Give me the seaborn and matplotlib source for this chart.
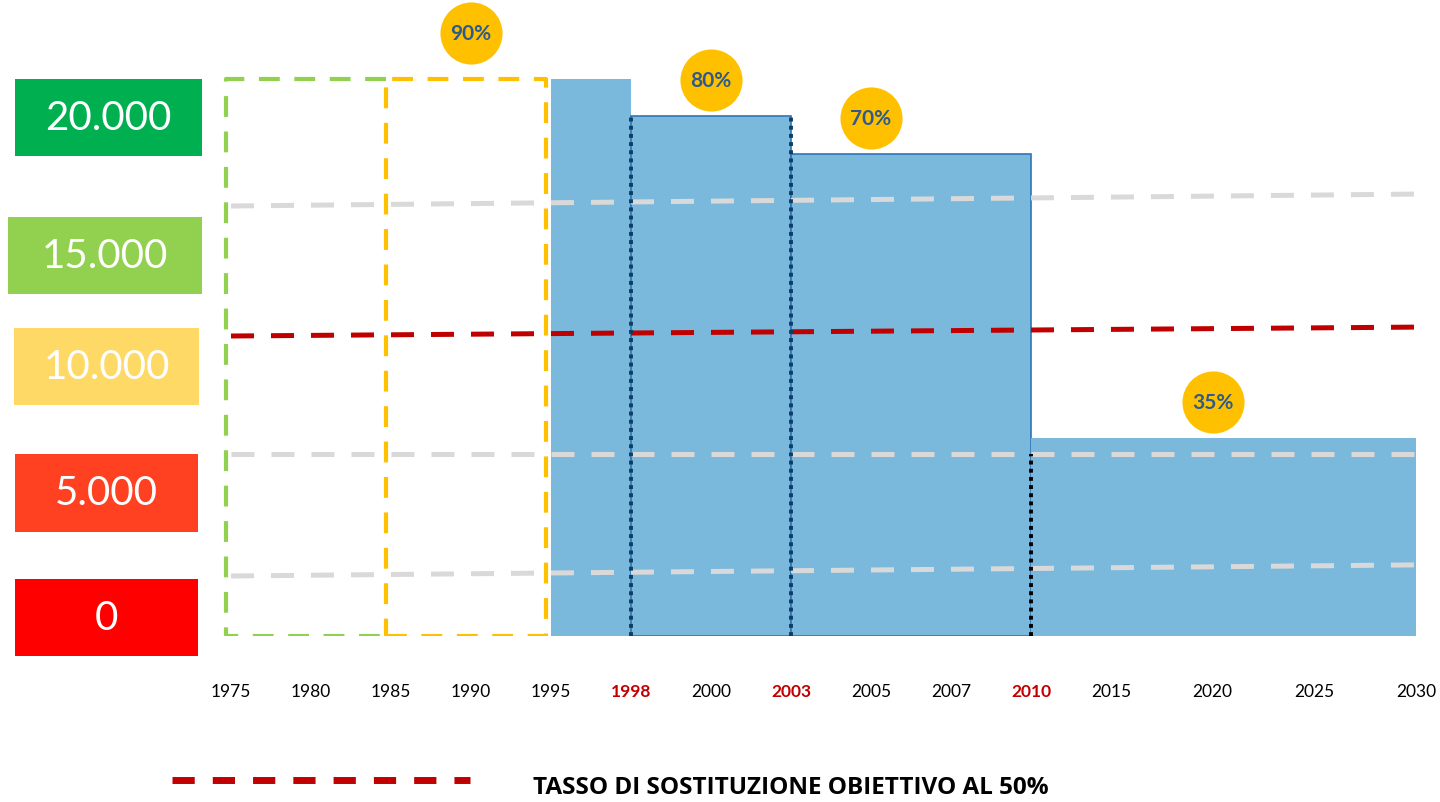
import numpy as np
import seaborn as sns
import matplotlib.pyplot as plt
from matplotlib.patches import Rectangle

# --- data ---
years = ['1975', '1980', '1985', '1990', '1995', '1998', '2000', '2003',
         '2005', '2007', '2010', '2015', '2020', '2025', '2030']
red_years = ['1998', '2003', '2010']

bar_from = ['1995', '1998', '2003', '2010']
bar_to = ['1998', '2003', '2010', '2030']
bar_values = [20050, 18720, 17350, 7130]

box_from = ['1975', '1985']
box_to = ['1985', '1995']
box_value = 20050

rates = ['90%', '80%', '70%', '35%']
rate_years = ['1990', '2000', '2005', '2020']
rate_heights = [21700, 20020, 18650, 8430]

ref_start = [2160, 6550, 10800, 15480]
ref_end = [2560, 6550, 11120, 15910]
target_line = 2

scale_labels = ['20.000', '15.000', '10.000', '5.000', '0']
scale_colors = ['#00b050', '#92d050', '#ffd966', '#ff4122', '#ff0000']

legend_text = 'TASSO DI SOSTITUZIONE OBIETTIVO AL 50%'

# --- layout ---
sns.set_style('white')
plt.rcParams['font.family'] = ['Lato', 'DejaVu Sans']

W, H = 1440, 803
UNIT = 80.0
fig = plt.figure(figsize=(W / 100, H / 100), dpi=100)
ax = fig.add_axes([0, 1 - 637 / H, 1, 637 / H])

# x slots: even up to 2015, wider afterwards
step = [1.0 if y <= '2015' else 1.27 for y in years[1:]]
pos = np.concatenate([[0], np.cumsum(step)])
xpos = dict(zip(years, pos))

ax.set_xlim(-231 / UNIT, (W - 231) / UNIT)
ax.set_ylim(0, 637 * 36)

bar_blue = '#7ab9dc'
bar_edges = ['none', '#2e75b6', '#2e75b6', 'none']
for a, b, v, ec in zip(bar_from, bar_to, bar_values, bar_edges):
    ax.bar(xpos[a], v, width=xpos[b] - xpos[a], align='edge', color=bar_blue,
           edgecolor=ec, linewidth=1.2, zorder=2)

# dashed boxes for the older periods (green one open on the shared side)
dash_box = dict(lw=3, linestyle=(0, (5, 3.5)), zorder=5, solid_joinstyle='round')
g0, g1 = xpos[box_from[0]] - 0.06, xpos[box_to[0]] - 0.06
ax.plot([g1, g0, g0, g1], [box_value, box_value, 0, 0], color='#92d050',
        dash_joinstyle='round', **{k: v for k, v in dash_box.items() if k != 'solid_joinstyle'})
ax.add_patch(Rectangle((xpos[box_from[1]] - 0.06, 0), xpos[box_to[1]] - xpos[box_from[1]],
                       box_value, fill=False, edgecolor='#ffc000', lw=3,
                       linestyle=(0, (5, 3.5)), zorder=5, joinstyle='round'))

# reference lines
for i, (s, e) in enumerate(zip(ref_start, ref_end)):
    col = '#c00000' if i == target_line else '#d9d9d9'
    sns.lineplot(x=[xpos['1975'], xpos['2030']], y=[s, e], ax=ax, color=col,
                 lw=3.6, linestyle=(0, (4.6, 3.4)), zorder=3)

# dotted boundaries
for y in ['1998', '2003']:
    ax.vlines(xpos[y], 0, bar_values[1], colors='#0e3d63', lw=2.8,
              linestyles=(0, (1, 1.1)), zorder=4)
ax.vlines(xpos['2010'], 0, ref_start[1], colors='#000000', lw=2.8,
          linestyles=(0, (1, 1.1)), zorder=4)

# percentage bubbles
rx = [xpos[y] for y in rate_years]
ax.scatter(rx, rate_heights, s=2000, color='#ffc000', zorder=6, linewidths=0)
for x, y, t in zip(rx, rate_heights, rates):
    ax.text(x, y, t, ha='center', va='center', fontsize=15, fontweight='bold',
            color='#2f5b8c', zorder=7)

# axis cosmetics
ax.set_xticks(pos)
ax.set_xticklabels(years)
ax.set_yticks([])
ax.set_xlabel('')
ax.set_ylabel('')
ax.tick_params(axis='x', length=0, pad=34, labelsize=12.5)
for lab in ax.get_xticklabels():
    if lab.get_text() in red_years:
        lab.set_color('#c00000')
        lab.set_fontweight('bold')
    else:
        lab.set_color('black')
for sp in ax.spines.values():
    sp.set_visible(False)

# coloured scale boxes on the left (pixel layout)
box_px = [(15, 80, 187, 77), (8, 218, 194, 77), (14, 329, 185, 77),
          (15, 455, 183, 78), (15, 580, 183, 77)]
for (x, y, w, h), lab, c in zip(box_px, scale_labels, scale_colors):
    fig.add_artist(Rectangle((x / W, 1 - (y + h) / H), w / W, h / H,
                             transform=fig.transFigure, color=c, lw=0))
    fig.text((x + w / 2) / W, 1 - (y + h / 2) / H, lab, ha='center', va='center',
             color='white', fontsize=29)

# legend at the bottom
fig.add_artist(plt.Line2D([172 / W, 470 / W], [1 - 781 / H, 1 - 781 / H],
                          transform=fig.transFigure, color='#c00000', lw=5,
                          linestyle=(0, (3.2, 2.6))))
fig.text(533 / W, 1 - 788 / H, legend_text, ha='left', va='center',
         fontsize=17.5, fontweight='bold', color='black',
         family=['Open Sans', 'DejaVu Sans'])

fig.savefig('out.png', dpi=100)
